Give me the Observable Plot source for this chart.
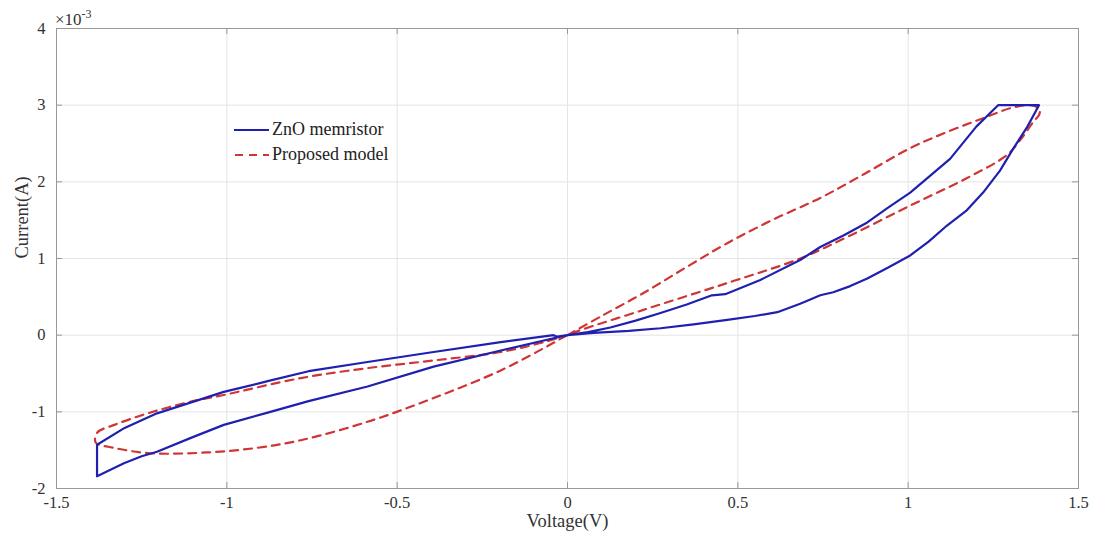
<!DOCTYPE html>
<html>
<head>
<meta charset="utf-8">
<script src="https://cdn.jsdelivr.net/npm/d3@7"></script>
<script src="https://cdn.jsdelivr.net/npm/@observablehq/plot@0.6"></script>
<style>
  html, body { margin: 0; padding: 0; background: #fff; }
  #wrap { position: relative; width: 1094px; height: 538px; font-family: "Liberation Serif", serif; }
  #exp { position: absolute; left: 55px; top: 11px; font-size: 17px; line-height: 1; color: #333; white-space: nowrap; }
  #exp .sup { position: relative; top: -7px; font-size: 12px; }
  #legend { position: absolute; left: 234px; top: 117px; font-size: 18px; color: #222; }
  #legend .row { display: flex; align-items: center; height: 25px; }
  #legend svg { margin-right: 3px; }
</style>
</head>
<body>
<div id="wrap">
  <div id="chart"></div>
  <div id="exp">×10<span class="sup">-3</span></div>
  <div id="legend">
    <div class="row"><svg width="35" height="10"><line x1="0" y1="5" x2="35" y2="5" stroke="#2020b0" stroke-width="2.2"/></svg><span>ZnO memristor</span></div>
    <div class="row"><svg width="35" height="10"><line x1="1" y1="5" x2="35" y2="5" stroke="#d03535" stroke-width="2.2" stroke-dasharray="8,6"/></svg><span>Proposed model</span></div>
  </div>
</div>
<script>
// Measured ZnO memristor loop (voltage V, current in mA)
const memV = [0, 0.076, 0.18, 0.273, 0.37, 0.469, 0.55, 0.616, 0.683, 0.742, 0.780, 0.83, 0.880, 0.94, 1.006, 1.06, 1.114, 1.17, 1.220, 1.27, 1.308, 1.35, 1.384,
  1.264, 1.20, 1.123, 1.006, 0.94, 0.880, 0.81, 0.742, 0.683, 0.566, 0.463, 0.424, 0.35, 0.273, 0.20, 0.126, 0.06, 0,
  -0.041, -0.196, -0.393, -0.587, -0.76, -0.88, -1.009, -1.10, -1.205, -1.25, -1.302, -1.381,
  -1.381, -1.30, -1.205, -1.10, -1.009, -0.88, -0.76, -0.587, -0.393, -0.196, -0.041, -0.03, 0];
const memI = [0, 0.03, 0.055, 0.09, 0.14, 0.20, 0.25, 0.30, 0.41, 0.52, 0.56, 0.64, 0.74, 0.88, 1.04, 1.22, 1.43, 1.62, 1.86, 2.15, 2.43, 2.72, 3.0,
  3.0, 2.72, 2.30, 1.86, 1.66, 1.47, 1.30, 1.15, 0.98, 0.72, 0.535, 0.52, 0.40, 0.29, 0.19, 0.10, 0.04, 0,
  -0.04, -0.20, -0.41, -0.67, -0.86, -1.01, -1.17, -1.33, -1.52, -1.58, -1.67, -1.84,
  -1.43, -1.21, -1.02, -0.87, -0.74, -0.60, -0.47, -0.35, -0.22, -0.09, 0.0, -0.02, 0];

// Proposed model loop
const modelV = [0, 0.1, 0.223, 0.35, 0.469, 0.60, 0.742, 0.87, 1.006, 1.12, 1.22, 1.308, 1.36, 1.385,
  1.385, 1.367, 1.33, 1.29, 1.173, 1.006, 0.83, 0.683, 0.469, 0.223, 0,
  -0.041, -0.196, -0.393, -0.587, -0.783, -0.912, -1.059, -1.226, -1.331, -1.385,
  -1.38, -1.33, -1.24, -1.108, -1.009, -0.783, -0.587, -0.393, -0.196, -0.06, 0];
const modelI = [0, 0.25, 0.55, 0.89, 1.20, 1.50, 1.79, 2.10, 2.44, 2.66, 2.83, 2.97, 3.0, 2.95,
  2.88, 2.78, 2.55, 2.35, 2.05, 1.69, 1.30, 1.0, 0.68, 0.33, 0,
  -0.1, -0.46, -0.82, -1.13, -1.37, -1.47, -1.53, -1.54, -1.47, -1.40,
  -1.27, -1.17, -1.03, -0.87, -0.78, -0.56, -0.43, -0.33, -0.22, -0.08, 0];

const xTicks = [-1.5, -1, -0.5, 0, 0.5, 1, 1.5];
const xTickLabels = ["-1.5", "-1", "-0.5", "0", "0.5", "1", "1.5"];
const yTicks = [-2, -1, 0, 1, 2, 3, 4];
const yTickLabels = ["-2", "-1", "0", "1", "2", "3", "4"];

const mem = memV.map((v, i) => ({v, i: memI[i]}));
const model = modelV.map((v, i) => ({v, i: modelI[i]}));

const W = 1094, H = 538, mt = 28, mr = 16, mb = 50, ml = 56;
const pw = W - ml - mr, ph = H - mt - mb;

const chart = Plot.plot({
  width: W, height: H,
  marginTop: mt, marginRight: mr, marginBottom: mb, marginLeft: ml,
  style: {fontFamily: "Liberation Serif, serif", fontSize: "16px", color: "#222", background: "#fff"},
  x: {domain: [-1.5, 1.5]},
  y: {domain: [-2, 4]},
  marks: [
    Plot.gridX(xTicks, {stroke: "#e4e4e4", strokeOpacity: 1}),
    Plot.gridY(yTicks, {stroke: "#e4e4e4", strokeOpacity: 1}),
    Plot.tickX(xTicks, {x: d => d, insetTop: ph - 6, stroke: "#999"}),
    Plot.tickX(xTicks, {x: d => d, insetBottom: ph - 6, stroke: "#999"}),
    Plot.tickY(yTicks, {y: d => d, insetRight: pw - 6, stroke: "#999"}),
    Plot.tickY(yTicks, {y: d => d, insetLeft: pw - 6, stroke: "#999"}),
    Plot.frame({stroke: "#999"}),
    Plot.axisX(xTicks, {tickSize: 0, tickPadding: 8, fontSize: 16.5, tickFormat: d => xTickLabels[xTicks.indexOf(d)], label: null, fill: "#333"}),
    Plot.axisY(yTicks, {tickSize: 0, tickPadding: 11, fontSize: 16.5, tickFormat: d => yTickLabels[yTicks.indexOf(d)], label: null, fill: "#333"}),
    Plot.text(["Voltage(V)"], {frameAnchor: "bottom", dy: 38, fontSize: 18.5, fill: "#333"}),
    Plot.text(["Current(A)"], {frameAnchor: "left", dx: -34, rotate: -90, fontSize: 18.5, fill: "#333"}),
    Plot.line(model, {x: "v", y: "i", stroke: "#d03535", strokeWidth: 2.2, strokeDasharray: "8,6", curve: "catmull-rom"}),
    Plot.line(mem, {x: "v", y: "i", stroke: "#2020b0", strokeWidth: 2.2, curve: "linear"})
  ]
});
document.getElementById("chart").appendChild(chart);
</script>
</body>
</html>
